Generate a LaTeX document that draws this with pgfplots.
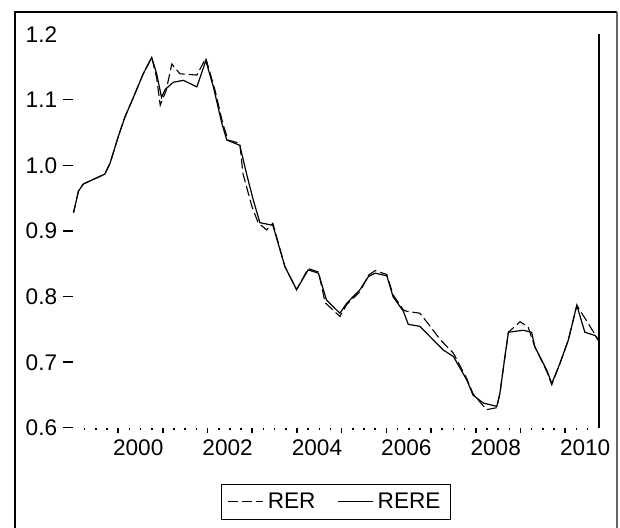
\documentclass[border=0pt]{standalone}
\usepackage{fontspec}
\setmainfont{Liberation Sans}
\usepackage{pgfplots}
\pgfplotsset{compat=1.18}
\newcommand\ytm{\hspace{3pt}\rule[\dimexpr0.36em-0.35pt\relax]{5pt}{0.7pt}}
\begin{document}
\begin{tikzpicture}[x=1pt,y=1pt]
\useasboundingbox (-36.75,-49.5) rectangle (273.25,214);
\draw[line width=1pt] (-29.25,-60) -- (-29.25,208) -- (271.75,208);
\draw[line width=1pt, black!60] (271.75,208) -- (271.75,-60);
\begin{axis}[at={(0,0)}, anchor=south west, scale only axis,
 width=262.6pt, height=196.8pt,
 xmin=1999, xmax=2010.75, ymin=0.6, ymax=1.2,
 clip=false,
 axis line style={draw=none},
 xtick={2000,...,2010},
 xticklabels={2000,,2002,,2004,,2006,,2008,,2010},
 x tick label style={xshift=10pt},
 minor xtick={1999.25,1999.5,1999.75,2000.25,2000.5,2000.75,2001.25,2001.5,2001.75,2002.25,2002.5,2002.75,2003.25,2003.5,2003.75,2004.25,2004.5,2004.75,2005.25,2005.5,2005.75,2006.25,2006.5,2006.75,2007.25,2007.5,2007.75,2008.25,2008.5,2008.75,2009.25,2009.5,2009.75,2010.25,2010.5},
 ytick={0.6,0.7,0.8,0.9,1.0,1.1,1.2},
 yticklabels={0.6\ytm,0.7\ytm,0.8\ytm,0.9\ytm,1.0\ytm,1.1\ytm,1.2\hphantom{\ytm}},
 major y tick style={draw=none},
 xtick pos=left, ytick pos=left, tick align=outside,
 major tick length=2.5pt, minor tick length=1.2pt,
 tick style={line width=0.8pt, black},
 ticklabel style={font=\fontsize{11.3}{13}\selectfont},
 y tick label style={inner xsep=0pt, xshift=2.5pt},
 legend style={at={(0.5,0)}, anchor=north, yshift=-28pt, draw=black, line width=0.5pt,
   font=\fontsize{11.3}{13}\selectfont, inner xsep=3pt, inner ysep=2pt},
 legend columns=2,
 legend cell align=left,
 /tikz/every even column/.append style={column sep=9pt},
 legend image code/.code={\draw[#1] (0pt,0pt) -- (17.5pt,0pt);},
]
\addplot[black, line width=0.55pt, dash pattern=on 5pt off 2pt] coordinates {
(1999.00,0.928) (1999.11,0.961) (1999.22,0.972) (1999.70,0.987) (1999.82,1.004)
(2000.00,1.044) (2000.15,1.074) (2000.34,1.104) (2000.56,1.140) (2000.75,1.165)
(2000.86,1.134) (2000.94,1.092) (2001.07,1.114) (2001.20,1.155) (2001.38,1.140)
(2001.76,1.138) (2001.96,1.164) (2002.17,1.114) (2002.34,1.064) (2002.46,1.039)
(2002.72,1.034) (2002.79,0.988) (2002.99,0.938) (2003.13,0.913) (2003.32,0.902)
(2003.46,0.912) (2003.73,0.846) (2003.99,0.811) (2004.25,0.843) (2004.48,0.838)
(2004.63,0.791) (2004.96,0.770) (2005.11,0.788) (2005.41,0.808) (2005.60,0.833)
(2005.75,0.840) (2006.01,0.834) (2006.15,0.803) (2006.38,0.780) (2006.45,0.778)
(2006.75,0.775) (2006.98,0.755) (2007.20,0.735) (2007.50,0.714) (2007.80,0.675)
(2007.94,0.652) (2008.24,0.628) (2008.47,0.631) (2008.54,0.653) (2008.62,0.693)
(2008.73,0.746) (2008.99,0.762) (2009.17,0.754) (2009.32,0.724) (2009.59,0.686)
(2009.70,0.666) (2009.88,0.698) (2010.07,0.734) (2010.26,0.787) (2010.52,0.759)
(2010.70,0.739) (2010.74,0.734)
};
\addlegendentry{RER}
\addplot[black, line width=0.6pt] coordinates {
(1999.00,0.928) (1999.11,0.961) (1999.22,0.972) (1999.70,0.987) (1999.82,1.004)
(2000.00,1.044) (2000.15,1.074) (2000.34,1.104) (2000.56,1.140) (2000.75,1.165)
(2000.86,1.140) (2000.97,1.104) (2001.05,1.116) (2001.23,1.127) (2001.46,1.130)
(2001.76,1.120) (2001.96,1.160) (2002.13,1.120) (2002.32,1.064) (2002.43,1.039)
(2002.72,1.031) (2002.87,0.988) (2003.02,0.948) (2003.17,0.913) (2003.46,0.909)
(2003.73,0.846) (2003.99,0.811) (2004.25,0.841) (2004.48,0.836) (2004.66,0.795)
(2004.96,0.775) (2005.11,0.790) (2005.41,0.811) (2005.60,0.831) (2005.75,0.836)
(2006.01,0.832) (2006.15,0.800) (2006.38,0.778) (2006.49,0.758) (2006.75,0.755)
(2006.98,0.739) (2007.27,0.719) (2007.50,0.709) (2007.80,0.673) (2007.94,0.650)
(2008.17,0.638) (2008.47,0.633) (2008.54,0.653) (2008.62,0.693) (2008.73,0.746)
(2009.06,0.749) (2009.25,0.746) (2009.32,0.724) (2009.59,0.688) (2009.70,0.668)
(2009.88,0.698) (2010.07,0.734) (2010.26,0.787) (2010.44,0.746) (2010.67,0.741)
(2010.74,0.734)
};
\addlegendentry{RERE}
\draw[line width=1pt] (rel axis cs:1,0) -- (rel axis cs:1,1);
\end{axis}
\end{tikzpicture}
\end{document}
